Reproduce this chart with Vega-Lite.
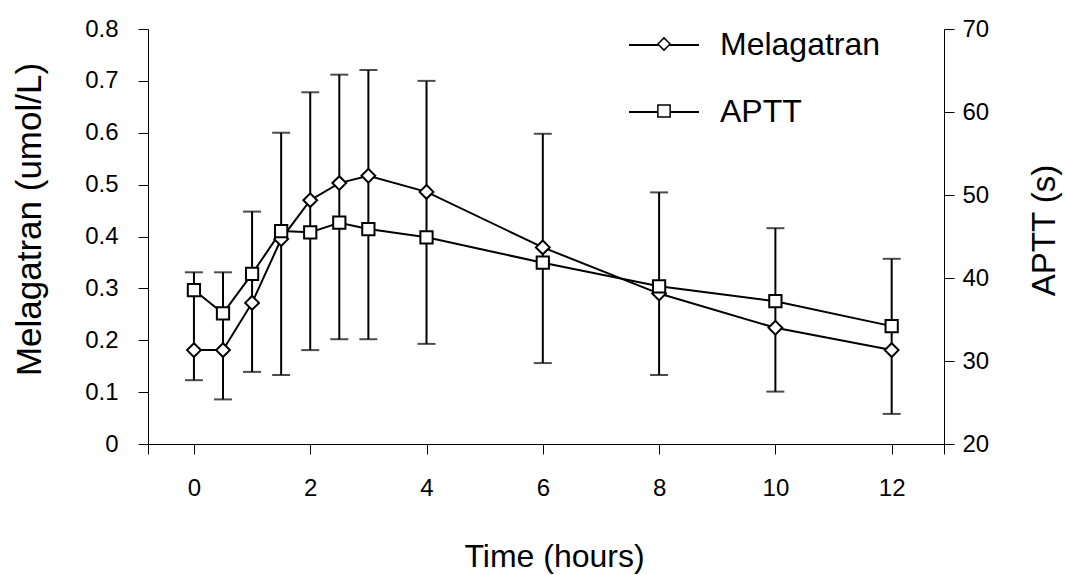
{
  "$schema": "https://vega.github.io/schema/vega-lite/v6.json",
  "width": 796,
  "height": 415,
  "autosize": {"type": "none"},
  "padding": {"left": 148, "top": 29, "right": 121, "bottom": 131},
  "background": "white",
  "config": {
    "font": "Liberation Sans",
    "view": {"stroke": null},
    "axis": {
      "domainColor": "black",
      "domainWidth": 1,
      "tickColor": "black",
      "tickWidth": 1,
      "tickSize": 10,
      "labelColor": "black",
      "titleColor": "black",
      "labelFont": "Liberation Sans",
      "titleFont": "Liberation Sans",
      "labelFontSize": 24,
      "titleFontSize": 32,
      "titleFontWeight": "normal",
      "grid": false,
      "labelOverlap": false,
      "labelFlush": false
    }
  },
  "data": {
    "values": [
      {"t": 0, "mel": 0.181, "lo": 0.123, "hi": 0.331, "aptt": 38.55},
      {"t": 0.5, "mel": 0.181, "lo": 0.086, "hi": 0.331, "aptt": 35.75},
      {"t": 1, "mel": 0.272, "lo": 0.139, "hi": 0.448, "aptt": 40.5},
      {"t": 1.5, "mel": 0.395, "lo": 0.133, "hi": 0.6, "aptt": 45.66},
      {"t": 2, "mel": 0.47, "lo": 0.181, "hi": 0.678, "aptt": 45.5},
      {"t": 2.5, "mel": 0.503, "lo": 0.202, "hi": 0.712, "aptt": 46.66},
      {"t": 3, "mel": 0.517, "lo": 0.202, "hi": 0.721, "aptt": 45.9},
      {"t": 4, "mel": 0.486, "lo": 0.193, "hi": 0.7, "aptt": 44.9},
      {"t": 6, "mel": 0.379, "lo": 0.156, "hi": 0.598, "aptt": 41.84},
      {"t": 8, "mel": 0.29, "lo": 0.133, "hi": 0.485, "aptt": 39.0},
      {"t": 10, "mel": 0.224, "lo": 0.101, "hi": 0.416, "aptt": 37.2},
      {"t": 12, "mel": 0.181, "lo": 0.058, "hi": 0.357, "aptt": 34.2}
    ]
  },
  "encoding": {
    "x": {
      "field": "t",
      "type": "quantitative",
      "scale": {"domain": [-0.79, 12.9], "nice": false, "zero": false},
      "axis": {
        "values": [-0.79, 0, 2, 4, 6, 8, 10, 12, 12.9],
        "labelExpr": "datum.value < 0 || datum.value > 12.5 ? '' : datum.label",
        "labelPadding": 22,
        "title": "Time (hours)",
        "titleX": 406,
        "titleY": 122,
        "titleAnchor": null,
        "titleAlign": "center",
        "titleBaseline": "alphabetic"
      }
    }
  },
  "layer": [
    {
      "mark": {"type": "rule", "stroke": "black", "strokeWidth": 2},
      "encoding": {
        "y": {
          "field": "lo",
          "type": "quantitative",
          "scale": {"domain": [0, 0.8], "nice": false},
          "axis": {
            "orient": "left",
            "values": [0, 0.1, 0.2, 0.3, 0.4, 0.5, 0.6, 0.7, 0.8],
            "format": ".1~f",
            "labelPadding": 20,
            "title": "Melagatran (umol/L)",
            "titleFontSize": 35,
            "titleAngle": 270,
            "titleX": -119,
            "titleY": 190,
            "titleAlign": "center",
            "titleBaseline": "middle",
            "titleAnchor": null
          }
        },
        "y2": {"field": "hi"}
      }
    },
    {
      "mark": {"type": "tick", "orient": "horizontal", "size": 18, "thickness": 2, "color": "black"},
      "encoding": {
        "y": {"field": "hi", "type": "quantitative", "scale": {"domain": [0, 0.8], "nice": false}, "axis": null}
      }
    },
    {
      "mark": {"type": "tick", "orient": "horizontal", "size": 18, "thickness": 2, "color": "black"},
      "encoding": {
        "y": {"field": "lo", "type": "quantitative", "scale": {"domain": [0, 0.8], "nice": false}, "axis": null}
      }
    },
    {
      "mark": {"type": "line", "strokeWidth": 2},
      "encoding": {
        "y": {"field": "mel", "type": "quantitative", "scale": {"domain": [0, 0.8], "nice": false}, "axis": null},
        "color": {
          "datum": "Melagatran",
          "scale": {"domain": ["Melagatran", "APTT"], "range": ["black", "black"]},
          "legend": {
            "orient": "none",
            "legendX": 480,
            "legendY": -20,
            "title": null,
            "padding": 0,
            "labelFont": "Liberation Sans",
            "labelFontSize": 32,
            "labelColor": "black",
            "labelLimit": 400,
            "labelOffset": 20,
            "symbolType": "stroke",
            "symbolSize": 4900,
            "symbolStrokeWidth": 2,
            "symbolStrokeColor": "black",
            "rowPadding": 15
          }
        }
      }
    },
    {
      "mark": {"type": "line", "strokeWidth": 2},
      "encoding": {
        "y": {
          "field": "aptt",
          "type": "quantitative",
          "scale": {"domain": [20, 70], "nice": false, "zero": false},
          "axis": {
            "orient": "right",
            "values": [20, 30, 40, 50, 60, 70],
            "labelPadding": 8,
            "title": "APTT (s)",
            "titleFontSize": 33,
            "titleAngle": 270,
            "titleX": 100,
            "titleY": 201,
            "titleAlign": "center",
            "titleBaseline": "middle",
            "titleAnchor": null
          }
        },
        "color": {"datum": "APTT"}
      }
    },
    {
      "mark": {"type": "point", "filled": true, "fill": "white", "stroke": "black", "strokeWidth": 2, "size": 190, "opacity": 1},
      "encoding": {
        "y": {"field": "mel", "type": "quantitative", "scale": {"domain": [0, 0.8], "nice": false}, "axis": null},
        "shape": {
          "datum": "Melagatran marker",
          "scale": {"domain": ["Melagatran marker", "APTT marker"], "range": ["diamond", "square"]},
          "legend": {
            "orient": "none",
            "legendX": 500,
            "legendY": -1,
            "title": null,
            "padding": 0,
            "labelFont": "Liberation Sans",
            "labelFontSize": 32,
            "labelExpr": "' '",
            "labelLimit": 400,
            "labelOffset": 20,
            "symbolSize": 150,
            "rowPadding": 35,
            "encode": {
              "symbols": {
                "fill": {"value": "white"},
                "stroke": {"value": "black"},
                "strokeWidth": {"value": 2}
              }
            }
          }
        }
      }
    },
    {
      "mark": {"type": "point", "filled": true, "fill": "white", "stroke": "black", "strokeWidth": 2, "size": 150, "opacity": 1},
      "encoding": {
        "y": {"field": "aptt", "type": "quantitative", "scale": {"domain": [20, 70], "nice": false, "zero": false}, "axis": null},
        "shape": {"datum": "APTT marker"}
      }
    }
  ],
  "resolve": {"scale": {"y": "independent"}}
}
